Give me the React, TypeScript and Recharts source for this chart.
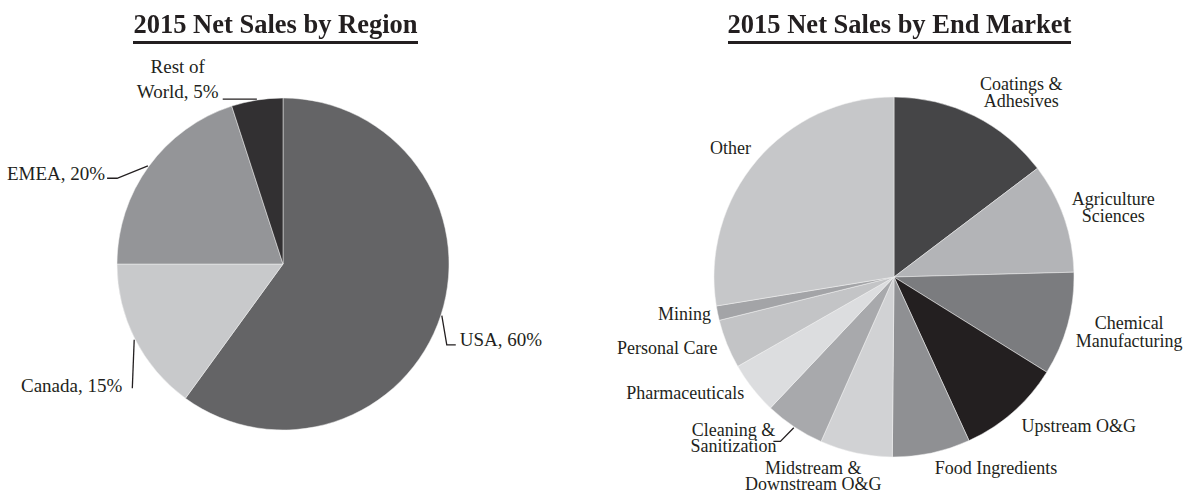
import React from 'react';
import { PieChart, Pie, Cell } from 'recharts';

// ---------- data ----------
const regionNames = ['USA', 'Canada', 'EMEA', 'Rest of World'];
const regionShares = [60, 15, 20, 5];
const regionLabels = [['USA, 60%'], ['Canada, 15%'], ['EMEA, 20%'], ['Rest of', 'World, 5%']];
const regionColors = ['#646466', '#c8c9cb', '#949598', '#323032'];

const marketNames = [
  'Coatings & Adhesives',
  'Agriculture Sciences',
  'Chemical Manufacturing',
  'Upstream O&G',
  'Food Ingredients',
  'Midstream & Downstream O&G',
  'Cleaning & Sanitization',
  'Pharmaceuticals',
  'Personal Care',
  'Mining',
  'Other',
];
const marketShares = [14.7, 9.9, 9.3, 9.3, 7.0, 6.5, 5.4, 4.7, 4.4, 1.3, 27.6];
const marketLabels = [
  ['Coatings &', 'Adhesives'],
  ['Agriculture', 'Sciences'],
  ['Chemical', 'Manufacturing'],
  ['Upstream O&G'],
  ['Food Ingredients'],
  ['Midstream &', 'Downstream O&G'],
  ['Cleaning &', 'Sanitization'],
  ['Pharmaceuticals'],
  ['Personal Care'],
  ['Mining'],
  ['Other'],
];
const marketColors = [
  '#454547', '#b3b4b7', '#7b7c7f', '#231f20', '#8f9093', '#d1d2d4',
  '#a8a9ac', '#dcdddf', '#c3c4c6', '#a3a4a7', '#c6c7c9',
];

const titles = ['2015 Net Sales by Region', '2015 Net Sales by End Market'];

// ---------- label layout (nudges from a radial base point) ----------
type Pt = [number, number];
type LabelLayout = { text: Pt; anchor: 'start' | 'middle' | 'end'; lh: number; leader?: Pt[] };

const regionLayout: Record<string, LabelLayout> = {
  'USA': { text: [17, 24], anchor: 'start', lh: 25, leader: [[4, 29], [13, 29]] },
  'Canada': { text: [-11, 45], anchor: 'end', lh: 25, leader: [[-1, 48]] },
  'EMEA': { text: [-42, 8], anchor: 'end', lh: 25, leader: [[-30, 13], [-40, 13]] },
  'Rest of World': { text: [-79, -19.5], anchor: 'middle', lh: 25, leader: [[-34, 1]] },
};

const marketLayout: Record<string, LabelLayout> = {
  'Coatings & Adhesives': { text: [27, 17], anchor: 'middle', lh: 17 },
  'Agriculture Sciences': { text: [7, 5], anchor: 'middle', lh: 17 },
  'Chemical Manufacturing': { text: [18, -4], anchor: 'middle', lh: 17.5 },
  'Upstream O&G': { text: [36, -20], anchor: 'middle', lh: 17 },
  'Food Ingredients': { text: [55, -29], anchor: 'middle', lh: 17 },
  'Midstream & Downstream O&G': { text: [-33, -21], anchor: 'middle', lh: 16 },
  'Cleaning & Sanitization': { text: [-36, -26], anchor: 'middle', lh: 16, leader: [[11, -23], [4, -23]] },
  'Pharmaceuticals': { text: [-32, -23], anchor: 'middle', lh: 17 },
  'Personal Care': { text: [-18, -13], anchor: 'middle', lh: 17 },
  'Mining': { text: [11, -8], anchor: 'middle', lh: 17 },
  'Other': { text: [8, 17], anchor: 'middle', lh: 17 },
};

const FONT = '"Liberation Serif", "Times New Roman", serif';
const INK = '#231f20';
const RAD = Math.PI / 180;

const regionData = regionNames.map((name, i) => ({ name, value: regionShares[i], lines: regionLabels[i] }));
const marketData = marketNames.map((name, i) => ({ name, value: marketShares[i], lines: marketLabels[i] }));

function makeLabel(layout: Record<string, LabelLayout>, baseGap: number, fontSize: number) {
  return (props: any) => {
    const { cx, cy, midAngle, outerRadius, payload, index } = props;
    const name = payload?.name ?? props.name;
    const lines: string[] = payload?.lines ?? [name];
    const l = layout[name];
    if (!l) return null;
    const cos = Math.cos(-midAngle * RAD);
    const sin = Math.sin(-midAngle * RAD);
    const bx = cx + (outerRadius + baseGap) * cos;
    const by = cy + (outerRadius + baseGap) * sin;
    const tx = bx + l.text[0];
    const ty = by + l.text[1];
    const n = lines.length;
    let leader = null;
    if (l.leader) {
      const sx = cx + (outerRadius + 1) * cos;
      const sy = cy + (outerRadius + 1) * sin;
      const pts = [[sx, sy], ...l.leader.map(([dx, dy]) => [bx + dx, by + dy])];
      leader = (
        <polyline
          points={pts.map((p) => p.join(',')).join(' ')}
          fill="none"
          stroke={INK}
          strokeWidth={1.3}
        />
      );
    }
    return (
      <g key={`lbl-${index}`}>
        {leader}
        <text
          x={tx}
          y={ty}
          textAnchor={l.anchor}
          fontFamily={FONT}
          fontSize={fontSize}
          fill={INK}
        >
          {lines.map((s, i) => (
            <tspan key={i} x={tx} y={ty + (i - (n - 1) / 2) * l.lh} dominantBaseline="central">
              {s}
            </tspan>
          ))}
        </text>
      </g>
    );
  };
}

const Title = ({ text, center }: { text: string; center: number }) => (
  <div style={{ position: 'absolute', left: center - 300, top: 9, width: 600 }}>
    <div
      style={{
        width: 'fit-content',
        margin: '0 auto',
        fontFamily: FONT,
        fontWeight: 'bold',
        fontSize: 26.5,
        lineHeight: '30px',
        paddingBottom: 2,
        borderBottom: `3px solid ${INK}`,
        color: INK,
        whiteSpace: 'nowrap',
      }}
    >
      {text}
    </div>
  </div>
);

export default function App() {
  return (
    <div style={{ position: 'fixed', left: 0, top: 0, width: 1185, height: 492, background: '#ffffff' }}>
      <div style={{ position: 'absolute', left: 0, top: 0 }}>
        <PieChart width={1185} height={492} margin={{ top: 0, right: 0, bottom: 0, left: 0 }}>
          <Pie
            data={regionData}
            dataKey="value"
            nameKey="name"
            cx={283}
            cy={264}
            outerRadius={166}
            startAngle={90}
            endAngle={-270}
            isAnimationActive={false}
            stroke="#f2f2f2"
            strokeWidth={0.5}
            labelLine={false}
            label={makeLabel(regionLayout, 2, 19)}
          >
            {regionData.map((d, i) => (
              <Cell key={d.name} fill={regionColors[i]} />
            ))}
          </Pie>
          <Pie
            data={marketData}
            dataKey="value"
            nameKey="name"
            cx={894}
            cy={277}
            outerRadius={180}
            startAngle={90}
            endAngle={-270}
            isAnimationActive={false}
            stroke="#f2f2f2"
            strokeWidth={0.5}
            labelLine={false}
            label={makeLabel(marketLayout, 45, 18)}
          >
            {marketData.map((d, i) => (
              <Cell key={d.name} fill={marketColors[i]} />
            ))}
          </Pie>
        </PieChart>
      </div>
      <Title text={titles[0]} center={275.5} />
      <Title text={titles[1]} center={899.5} />
    </div>
  );
}
